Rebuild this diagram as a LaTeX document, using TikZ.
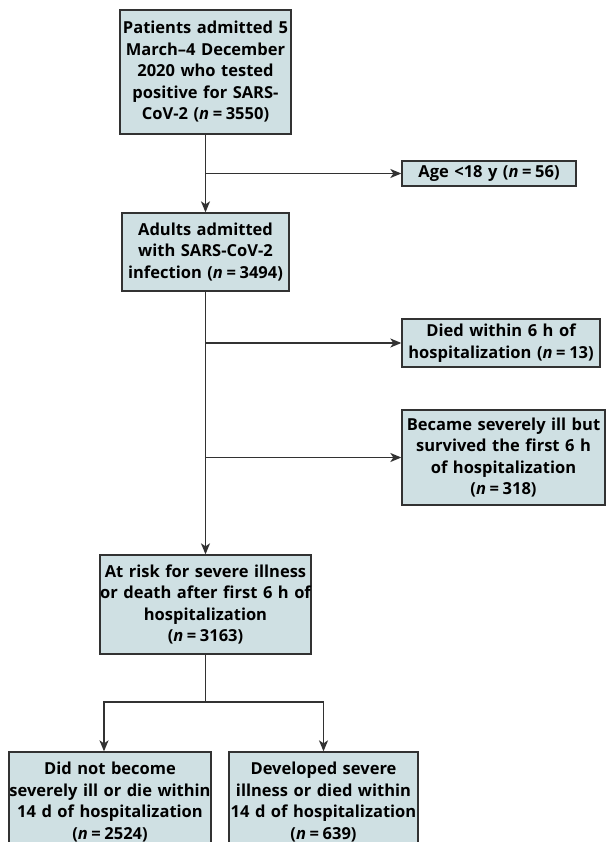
\documentclass[tikz,border=0pt]{standalone}
\usepackage{fontspec}
\setmainfont{Open Sans}
\usetikzlibrary{arrows.meta,shapes,positioning}
\definecolor{boxfill}{RGB}{207,224,227}
\definecolor{linegray}{RGB}{50,50,50}
\newcommand{\ncount}[1]{\textit{n}\hspace{0.22em}=\hspace{0.22em}#1}
\tikzstyle{flowbox}=[draw=linegray,fill=boxfill,line width=1.3pt,align=center,inner sep=0pt,font=\bfseries\fontsize{16.5}{21.5}\selectfont]
\tikzstyle{edge} = [draw,line width=1.5pt,color=linegray,-]
\tikzstyle{dedge} = [draw,line width=1.5pt,color=linegray,-{Stealth[length=11pt,width=9pt,inset=3pt]}]

\begin{document}
\begin{tikzpicture}[x=1pt,y=-1pt]
    \useasboundingbox (0,0) rectangle (606,842);

    \node[flowbox,text width=171pt,minimum height=124pt] (patients) at (205.5,72) {Patients admitted 5\\March–4 December\\2020 who tested\\positive for SARS-\\CoV-2 (\ncount{3550})};
    \node[flowbox,text width=174pt,minimum height=25pt] (age) at (489,173.5) {Age <18 y (\ncount{56})};
    \node[flowbox,text width=167pt,minimum height=78pt] (adults) at (205.5,252) {Adults admitted\\with SARS-CoV-2\\infection (\ncount{3494})};
    \node[flowbox,text width=198pt,minimum height=48pt] (died) at (501,343) {Died within 6 h of\\hospitalization (\ncount{13})};
    \node[flowbox,text width=203pt,minimum height=95pt] (became) at (503.5,457.5) {Became severely ill but\\survived the first 6 h\\of hospitalization\\(\ncount{318})};
    \node[flowbox,text width=211pt,minimum height=99pt] (atrisk) at (205.5,604.5) {At risk for severe illness\\or death after first 6 h of\\hospitalization\\(\ncount{3163})};
    \node[flowbox,text width=202pt,minimum height=100pt] (notsevere) at (110,802) {Did not become\\severely ill or die within\\14 d of hospitalization\\(\ncount{2524})};
    \node[flowbox,text width=189pt,minimum height=100pt] (severe) at (323.5,802) {Developed severe\\illness or died within\\14 d of hospitalization\\(\ncount{639})};

    \coordinate (split) at (205.5,702);

    \path[dedge] (patients) -- (adults);
    \path[dedge] (patients.south |- age.west) -- (age.west);
    \path[dedge] (adults) -- (atrisk);
    \path[dedge] (adults.south |- died.west) -- (died.west);
    \path[dedge] (adults.south |- became.west) -- (became.west);
    \path[edge] (atrisk) -- (split);
    \path[dedge] (split) -| ([xshift=-6pt]notsevere.north);
    \path[dedge] (split) -| (severe.north);
\end{tikzpicture}
\end{document}
